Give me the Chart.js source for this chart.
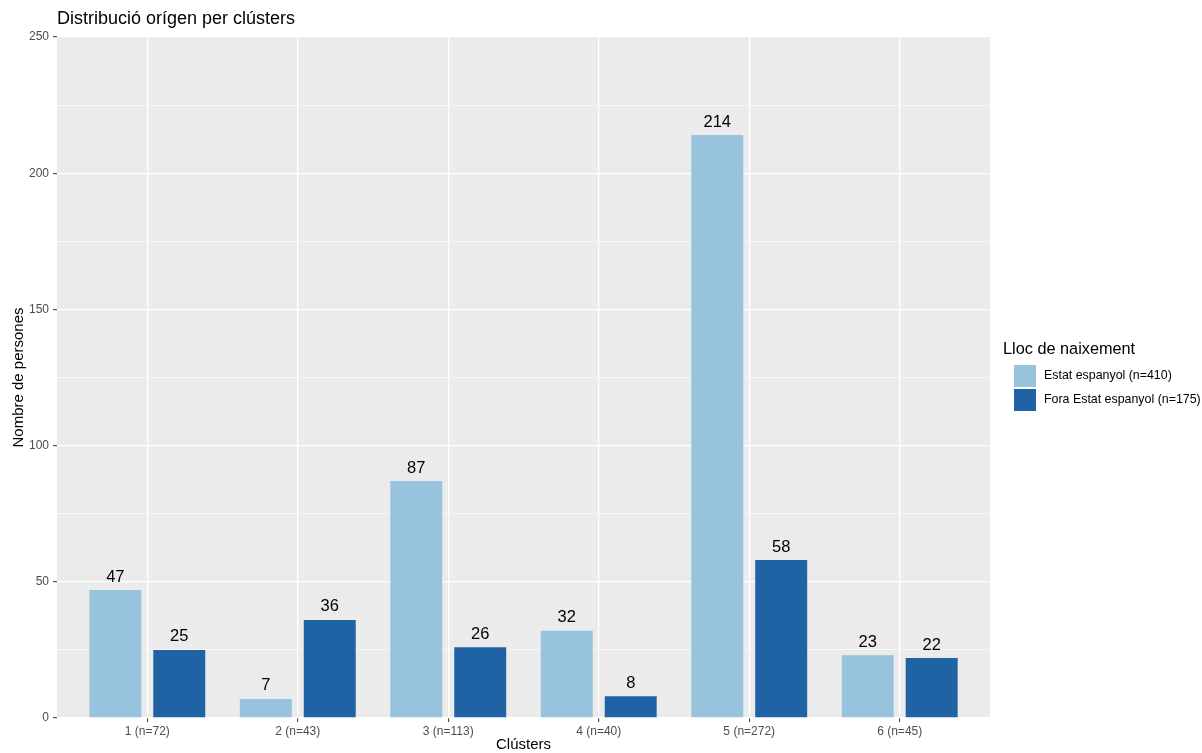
<!DOCTYPE html>
<html>
<head>
<meta charset="utf-8">
<script src="https://cdn.jsdelivr.net/npm/chart.js@4/dist/chart.umd.min.js"></script>
<style>
html,body{margin:0;padding:0;background:#fff;}
#wrap{width:1202px;height:753px;position:relative;}
</style>
</head>
<body>
<div id="wrap"><canvas id="c" width="1202" height="753"></canvas></div>
<script>
const categories = ['1 (n=72)', '2 (n=43)', '3 (n=113)', '4 (n=40)', '5 (n=272)', '6 (n=45)'];
const estatEspanyol = [47, 7, 87, 32, 214, 23];
const foraEstat = [25, 36, 26, 8, 58, 22];
const seriesNames = ['Estat espanyol (n=410)', 'Fora Estat espanyol (n=175)'];
const yTicks = [0, 50, 100, 150, 200, 250];
const titleText = 'Distribució orígen per clústers';
const legendTitle = 'Lloc de naixement';
const xTitle = 'Clústers';
const yTitle = 'Nombre de persones';

const FONT = '"Liberation Sans", Arial, Helvetica, sans-serif';
const colors = ['#97C3DC', '#1F63A5'];

const toPts = arr => arr.map((v, i) => ({x: i + 1, y: v}));

const bgPlugin = {
  id: 'panelBg',
  beforeDraw(chart) {
    const {ctx, chartArea: a} = chart;
    ctx.save();
    ctx.fillStyle = '#EBEBEB';
    ctx.fillRect(a.left, a.top, a.right - a.left, a.bottom - a.top);
    ctx.restore();
  }
};

const labelPlugin = {
  id: 'extras',
  afterDatasetsDraw(chart) {
    const ctx = chart.ctx;
    ctx.save();
    ctx.fillStyle = '#000';
    ctx.font = '16.5px ' + FONT;
    ctx.textAlign = 'center';
    ctx.textBaseline = 'middle';
    chart.data.datasets.forEach((ds, di) => {
      const meta = chart.getDatasetMeta(di);
      meta.data.forEach((bar, i) => {
        ctx.fillText(String(ds.data[i].y), bar.x, bar.y - 13);
      });
    });
    ctx.restore();
  },
  afterDraw(chart) {
    const ctx = chart.ctx;
    const a = chart.chartArea;
    ctx.save();
    ctx.fillStyle = '#000';
    ctx.font = '18px ' + FONT;
    ctx.textAlign = 'left';
    ctx.textBaseline = 'middle';
    ctx.fillText(titleText, a.left, 19);
    ctx.font = '16.3px ' + FONT;
    ctx.fillText(legendTitle, 1003, 350);
    seriesNames.forEach((name, i) => {
      const y = 365 + i * 24;
      ctx.fillStyle = colors[i];
      ctx.fillRect(1014, y, 22, 22);
      ctx.fillStyle = '#000';
      ctx.font = '12.4px ' + FONT;
      ctx.fillText(name, 1044, y + 11);
    });
    ctx.restore();
  }
};

new Chart(document.getElementById('c'), {
  type: 'bar',
  data: {
    datasets: [
      {label: seriesNames[0], data: toPts(estatEspanyol), backgroundColor: colors[0]},
      {label: seriesNames[1], data: toPts(foraEstat), backgroundColor: colors[1]}
    ]
  },
  options: {
    responsive: false,
    animation: false,
    devicePixelRatio: 1,
    categoryPercentage: 0.85,
    barPercentage: 0.8125,
    layout: {padding: {left: 0, top: 37, right: 212, bottom: 0}},
    plugins: {legend: {display: false}, tooltip: {enabled: false}, title: {display: false}},
    scales: {
      x: {
        type: 'linear',
        min: 0.4,
        max: 6.6,
        offset: false,
        afterBuildTicks(scale) { scale.ticks = categories.map((c, i) => ({value: i + 1})); },
        afterFit(scale) { scale.height = 35; },
        ticks: {
          callback: (v) => categories[Math.round(v) - 1] || '',
          font: {family: FONT, size: 12},
          color: '#4D4D4D',
          padding: 2,
          maxRotation: 0,
          autoSkip: false
        },
        grid: {offset: false, color: '#FFFFFF', lineWidth: 1.3, tickLength: 4, tickColor: '#333333', tickWidth: 1},
        border: {display: false},
        title: {display: true, text: xTitle, font: {family: FONT, size: 15}, color: '#000', padding: {top: 0, bottom: -1}}
      },
      y: {
        min: 0,
        max: 250,
        afterBuildTicks(scale) {
          const t = [];
          for (let v = 0; v <= 250; v += 25) t.push({value: v});
          scale.ticks = t;
        },
        afterFit(scale) { scale.width = 57; },
        ticks: {
          callback: (v) => yTicks.includes(v) ? String(v) : '',
          font: {family: FONT, size: 12},
          color: '#4D4D4D',
          padding: 4
        },
        grid: {
          color: '#FFFFFF',
          lineWidth: (ctx) => (ctx.tick && ctx.tick.value % 50 === 0) ? 1.3 : 0.6,
          tickLength: 4,
          tickColor: (ctx) => (ctx.tick && ctx.tick.value % 50 === 0) ? '#333333' : 'rgba(0,0,0,0)',
          tickWidth: 1
        },
        border: {display: false},
        title: {display: true, text: yTitle, font: {family: FONT, size: 15}, color: '#000', padding: {top: 10, bottom: 0}}
      }
    }
  },
  plugins: [bgPlugin, labelPlugin]
});
</script>
</body>
</html>
